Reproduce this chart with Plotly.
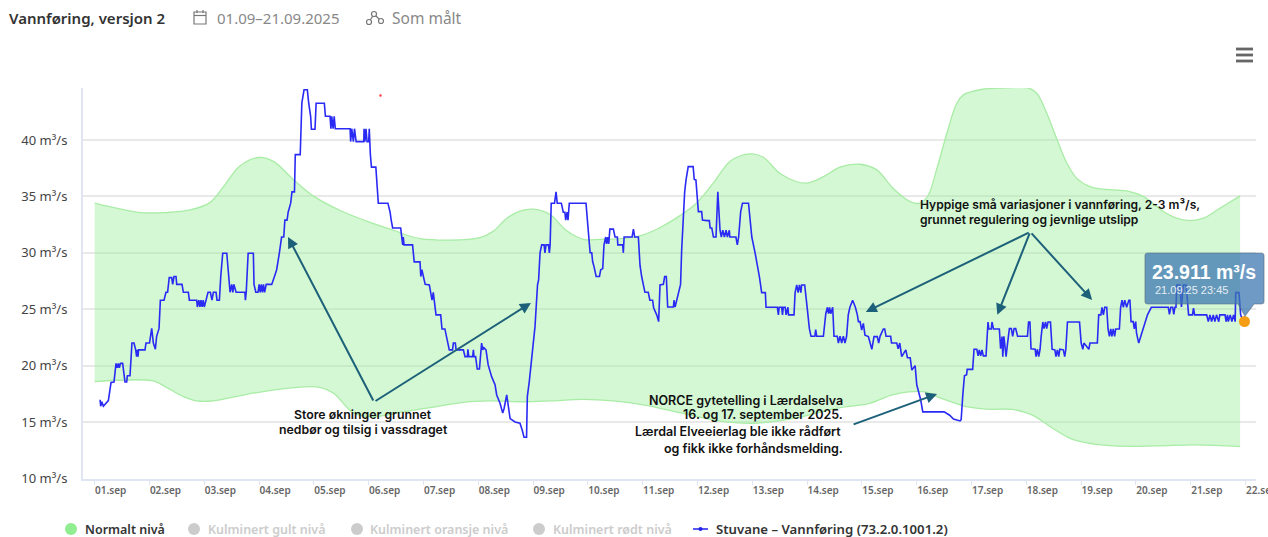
import plotly.graph_objects as go

# ---------- data (day offset from 1 Sep 00:00, m3/s) ----------
tick_days = list(range(22))
tick_labels = [f"{d:02d}.sep" for d in range(1, 23)]
y_ticks = [10, 15, 20, 25, 30, 35, 40]
y_labels = ["10 m³/s", "15 m³/s", "20 m³/s", "25 m³/s", "30 m³/s", "35 m³/s", "40 m³/s"]

upper_day = [0.0, 0.83, 1.3, 1.74, 2.1, 2.35, 2.65, 3.0, 3.26, 3.625, 4.0, 4.48, 5.08, 5.45, 5.94, 7.03, 7.27, 7.52, 7.76, 8.0, 8.31, 8.6, 8.92, 9.22, 9.71, 10.01, 10.3, 10.68, 10.98, 11.29, 11.59, 11.84, 12.0, 12.2, 12.5, 12.81, 13.02, 13.3, 13.6, 13.96, 14.27, 14.57, 14.88, 15.06, 15.21, 15.36, 15.55, 15.73, 15.85, 15.97, 16.2, 16.52, 17.04, 17.19, 17.37, 17.55, 17.74, 17.92, 18.16, 18.4, 18.83, 19.13, 19.5, 19.74, 19.99, 20.23, 20.53, 20.9]
upper_val = [34.4, 33.57, 33.57, 33.8, 34.45, 35.87, 37.7, 38.45, 38.1, 36.5, 35.0, 33.75, 32.6, 32.0, 31.26, 31.35, 31.9, 33.07, 33.7, 33.87, 33.4, 32.0, 31.2, 31.2, 31.3, 31.6, 32.2, 33.3, 34.4, 36.2, 38.1, 38.68, 38.77, 38.47, 37.05, 36.3, 36.2, 36.76, 37.6, 37.85, 37.35, 35.7, 34.54, 34.4, 35.1, 37.35, 40.6, 43.26, 44.0, 44.24, 44.5, 44.6, 44.6, 44.15, 42.4, 40.16, 37.94, 36.6, 35.87, 35.64, 35.49, 35.0, 33.66, 33.07, 32.86, 33.07, 33.95, 35.05]

lower_day = [0.0, 1.07, 1.3, 1.62, 1.86, 2.16, 2.77, 3.08, 3.69, 4.11, 4.36, 4.72, 5.09, 5.63, 6.24, 6.73, 7.2, 7.82, 8.31, 8.92, 9.46, 10.04, 10.72, 11.48, 12.09, 12.77, 13.53, 14.14, 14.55, 14.85, 15.15, 15.45, 15.9, 16.35, 16.73, 17.1, 17.48, 17.8, 18.08, 18.6, 19.36, 20.1, 20.9]
lower_val = [18.58, 18.64, 18.1, 17.25, 16.87, 16.87, 17.46, 17.7, 18.08, 18.08, 17.55, 15.8, 15.48, 15.9, 16.37, 16.75, 16.87, 16.8, 16.87, 17.0, 16.87, 16.5, 15.78, 15.04, 14.9, 15.34, 16.22, 16.66, 17.4, 17.67, 17.67, 17.1, 16.37, 16.13, 16.13, 15.63, 14.45, 13.56, 13.18, 12.88, 12.88, 12.97, 12.82]

flow_a = [(.085,16.9),(.10,16.9),(.109,16.4),(.13,16.8),(.158,16.4),(.249,16.9),(.298,18.5),(.352,18.55),(.389,20.2),(.413,19.8),(.43,20.2),(.45,19.8),(.47,20.2),(.51,20.2),(.553,18.55),(.584,18.55),(.596,19.1),(.644,19.1),(.68,22),(.717,22),(.748,21.4),(.765,20.8),(.778,21.4),(.79,20.8),(.8,21.4),(.918,21.4),(.936,22),(1.0,22),(1.04,23.3),(1.07,22),(1.107,21.45),(1.13,22.6),(1.174,23.3),(1.198,25.8),(1.265,25.8),(1.3,26.5),(1.33,26.5),(1.36,27.8),(1.405,27.8),(1.423,27.2),(1.447,27.9),(1.484,27.9),(1.496,27.2),(1.593,27.2),(1.618,26.5),(1.709,26.5),(1.727,25.8),(1.861,25.8),(1.873,25.2),(1.9,25.8),(1.92,25.2),(1.94,25.8),(1.96,25.2),(1.98,25.8),(2.0,25.2),(2.03,25.8),(2.068,26.5),(2.11,26.5),(2.14,25.8),(2.165,26.5),(2.214,26.5),(2.232,25.8),(2.275,25.8),(2.3,27.9),(2.336,29.96),(2.41,29.96),(2.44,27.9),(2.47,26.5),(2.5,27.2),(2.52,26.5),(2.54,27.2),(2.58,26.5),(2.74,26.5),(2.75,25.8),(2.765,26.5),(2.79,29.4),(2.80,29.96),(2.895,29.96),(2.907,27.2),(2.94,26.5),(2.98,26.5),(3.0,27.2),(3.02,26.5),(3.04,27.2),(3.06,26.5),(3.08,27.2),(3.1,26.5),(3.13,27.2),(3.23,27.2),(3.28,27.9)]
flow_b = [(3.32,28.5),(3.37,30),(3.41,31.4),(3.45,31.4),(3.47,32.9),(3.51,32.9),(3.53,33.6),(3.576,34.4),(3.6,35.4),(3.645,35.4),(3.66,38.7),(3.75,38.7),(3.755,39.86),(3.78,43.3),(3.82,44.45),(3.88,44.45),(3.905,43.26),(3.94,42.1),(3.954,40.96),(4.02,40.96),(4.04,43.26),(4.19,43.26),(4.21,42.1),(4.294,42.1),(4.31,41),(4.325,42.1),(4.35,41),(4.37,42.1),(4.39,41),(4.66,41),(4.67,39.86),(4.69,41),(4.72,39.86),(4.74,41),(4.77,39.86),(4.91,39.86),(4.915,41),(4.93,39.86),(4.95,41),(4.97,39.86),(5.0,39.86),(5.01,41),(5.03,38.7),(5.05,37.6),(5.13,37.6),(5.175,34.4),(5.35,34.4),(5.39,33.6),(5.41,32.9),(5.437,32.2),(5.583,32.2),(5.62,30.7),(5.63,31.4),(5.644,30.7),(5.8,30.7),(5.83,29.2),(5.936,29.2),(5.95,27.9),(5.97,28.5),(6.0,27.9)]
flow_c = [(6.03,27.2),(6.106,27.15),(6.13,26.5),(6.155,25.8),(6.178,26.5),(6.21,25.1),(6.228,24.5),(6.313,24.5),(6.337,23.25),(6.39,23.25),(6.435,22),(6.47,21.4),(6.53,21.4),(6.544,22),(6.58,22),(6.595,21.4),(6.727,21.4),(6.757,20.8),(6.8,20.8),(6.81,21.45),(6.825,20.8),(6.897,20.8),(6.91,21.4),(6.92,20.8),(6.95,20.8),(6.98,19.7),(7.02,19.7),(7.06,22),(7.08,21.4),(7.1,21.6),(7.14,21.4),(7.18,20.06),(7.244,19),(7.305,18.3),(7.335,17.4),(7.396,16.66),(7.445,15.8),(7.47,16.2),(7.518,17.4),(7.55,16.4),(7.58,15.3),(7.67,15),(7.76,14.9),(7.8,14.3),(7.834,13.65),(7.88,13.65),(7.894,17.25),(7.93,18.6),(7.96,20.2),(8.0,22),(8.035,23.5),(8.08,27.15),(8.1,27.6)]
flow_d = [(8.126,30),(8.156,30.7),(8.2,30.7),(8.216,30),(8.235,30.7),(8.28,30.7),(8.296,30),(8.31,30.7),(8.33,34.4),(8.39,34.4),(8.418,35.4),(8.44,34.4),(8.515,34.4),(8.55,33.6),(8.58,33.6),(8.594,32.9),(8.62,33.6),(8.636,32.9),(8.66,34.4),(8.965,34.4),(8.99,32.9),(9.04,30),(9.07,30),(9.086,29.2),(9.11,28.8),(9.15,27.9),(9.21,27.9),(9.233,28.5),(9.27,28.6),(9.293,30.7),(9.324,31.4),(9.34,30.8),(9.36,31.4),(9.38,30.8),(9.4,32.1),(9.464,32.1),(9.494,31.4),(9.537,31.4),(9.545,30.7),(9.634,30.7),(9.646,30),(9.66,31.4),(9.805,31.4),(9.83,32.1),(9.853,31.4),(9.92,31.4),(9.95,28.9),(9.98,27.9),(10.04,26.5),(10.1,26.5),(10.13,25.8),(10.18,25.8),(10.2,25.1),(10.255,24.5),(10.29,23.9),(10.315,27.15),(10.376,27.2),(10.4,27.9),(10.43,27.9),(10.455,25.2),(10.56,25.2),(10.57,25.8),(10.59,25.2),(10.62,25.8),(10.65,26.5),(10.69,27.2)]
flow_e = [(10.71,30.2),(10.74,33.2),(10.765,35.4),(10.79,36.46),(10.83,37.64),(10.92,37.64),(10.94,36.5),(10.97,36.46),(11.0,34.4),(11.015,33.65),(11.075,33.65),(11.09,32.9),(11.17,32.85),(11.215,32.85),(11.23,32.2),(11.26,32.2),(11.29,31.4),(11.337,31.4),(11.37,35.4),(11.41,32),(11.434,31.4),(11.46,32),(11.49,31.4),(11.52,32),(11.545,31.4),(11.58,32),(11.59,31.4),(11.70,31.4),(11.726,30.7),(11.75,31.4),(11.787,33.65),(11.82,34.4),(11.93,34.4),(11.96,32.9),(11.99,31.4),(12.05,30),(12.09,29.07),(12.128,27.9),(12.17,26.47),(12.237,26.47),(12.25,25.17),(12.456,25.17),(12.475,24.5),(12.49,25.17),(12.535,25.17),(12.55,24.5),(12.565,25.17),(12.6,25.17),(12.615,24.5),(12.65,25.17),(12.66,24.5),(12.76,24.5),(12.78,26.47),(12.81,27.15),(12.835,26.47),(12.86,27.15),(12.885,26.47),(12.9,27.15),(12.955,27.15),(12.967,26.47),(13.0,25.17),(13.04,23.3),(13.07,22.6),(13.14,22.6),(13.156,23.2),(13.175,22.6),(13.296,22.6),(13.34,24.6),(13.37,25.17),(13.39,24.6),(13.41,25.17),(13.43,24.6),(13.466,25.17),(13.49,22.6),(13.55,22.6),(13.57,22),(13.6,22.6),(13.63,22),(13.66,22.6),(13.69,22),(13.72,22.6),(13.75,24.5),(13.78,25.17),(13.83,25.8),(13.88,25.17),(13.916,24.5),(13.935,23.9),(13.965,23.9),(13.995,23.16),(14.025,23.75),(14.055,22.7),(14.117,22.57),(14.18,21.45),(14.22,22.57),(14.28,22.57),(14.305,22),(14.33,22.6),(14.39,23.25),(14.415,23.25),(14.44,22.6),(14.524,22.6),(14.54,22),(14.635,22),(14.66,21.5),(14.69,22),(14.725,20.8),(14.8,21.4),(14.83,20.7),(14.88,20.7),(14.91,19.6)]
flow_f = [(14.97,20.0),(15.0,18.3),(15.07,17.0),(15.11,15.9),(15.5,15.9),(15.6,15.6),(15.67,15.27),(15.79,15.1),(15.81,15.2),(15.84,17.4),(15.87,19.1),(15.91,19.2),(15.92,19.67),(16.02,19.67),(16.045,21.45),(16.095,21.45),(16.12,20.86),(16.14,21.4),(16.167,20.86),(16.19,21.4),(16.215,20.86),(16.264,20.86),(16.29,23.25),(16.3,23.87),(16.315,23.25),(16.36,23.25),(16.373,23.87),(16.4,23.25),(16.507,23.25),(16.53,21.5),(16.556,22.57),(16.57,20.8),(16.59,22.6),(16.63,20.8),(16.65,21.7),(16.677,22.57),(16.69,23.28),(16.725,23.28),(16.75,22.6),(16.775,23.28),(16.805,23.28),(16.84,22.6),(17.02,22.6),(17.04,23.87),(17.065,23.87),(17.085,21.5),(17.16,21.45),(17.176,20.8),(17.2,21.45),(17.225,20.8),(17.25,21.45),(17.27,22.6),(17.3,23.87),(17.32,23.28),(17.35,23.87),(17.37,23.28),(17.395,23.87),(17.44,23.87),(17.47,21.45),(17.52,21.4),(17.54,20.8),(17.565,21.4),(17.59,20.8),(17.61,21.45),(17.675,21.4),(17.7,20.8),(17.72,21.45),(17.75,23.87),(17.97,23.87),(18.0,22),(18.03,21.45),(18.05,22),(18.14,21.45),(18.16,22),(18.295,22),(18.32,24.5),(18.36,24.5),(18.38,25.17),(18.405,24.5),(18.43,25.17),(18.466,25.17),(18.49,23.25),(18.515,22.6),(18.54,23.25),(18.56,22.6),(18.585,23.25),(18.61,22.6),(18.63,23.25),(18.697,23.25),(18.72,25.17),(18.745,25.8),(18.77,25.17),(18.795,25.8),(18.83,25.17),(18.87,25.8),(18.89,25.8),(18.91,23.9),(18.95,23.9),(18.97,23.25),(18.995,23.9),(19.01,22.87),(19.05,22),(19.085,22.6),(19.12,23.2),(19.165,23.9),(19.21,24.5),(19.28,25.17),(19.59,25.17),(19.61,24.55),(19.635,25.17),(19.67,25.17),(19.69,24.55),(19.71,25.17),(19.73,25.17),(19.745,27.15),(19.8,27.15),(19.83,25.2),(19.865,27.15),(19.915,27.15),(19.96,24.5),(20.03,24.5),(20.05,25.1),(20.07,24.5),(20.29,24.5),(20.32,23.9),(20.35,24.5),(20.38,23.9),(20.41,24.5),(20.44,23.9),(20.47,24.5),(20.51,23.9),(20.53,24.5),(20.625,24.5),(20.645,23.9),(20.67,24.5),(20.685,23.9),(20.72,24.5),(20.75,23.9),(20.78,24.5),(20.81,23.9),(20.82,26.47),(20.88,26.47),(20.91,24.5),(20.95,24.0),(20.98,23.91)]

last_day = [20.98]
last_value = [23.911]

# ---------- layout helpers ----------
W, H = 1268, 537
L, R, T, B = 83, 1256, 88, 479
X_RANGE = [-0.2135, 21.19]
Y_RANGE = [9.95, 44.61]

def px(x): return (x - L) / (R - L)
def py(y): return (B - y) / (B - T)

shapes, anns = [], []

def text(x, y, s, size=12, color="#333", family="Noto Sans", weight=400, anchor="left"):
    anns.append(dict(xref="paper", yref="paper", x=px(x), y=py(y), text=s, showarrow=False,
                     xanchor=anchor, yanchor="middle", align=anchor, borderpad=0, borderwidth=0,
                     font=dict(size=size, color=color, family=family, weight=weight)))

def circle(cx, cy, r, fill=None, line=None, w=0):
    shapes.append(dict(type="circle", xref="paper", yref="paper", x0=px(cx-r), x1=px(cx+r), y0=py(cy+r), y1=py(cy-r),
                       fillcolor=fill or "rgba(0,0,0,0)", line=dict(color=line or "rgba(0,0,0,0)", width=w)))

def seg(x0, y0, x1, y1, color, w):
    shapes.append(dict(type="line", xref="paper", yref="paper", x0=px(x0), x1=px(x1), y0=py(y0), y1=py(y1),
                       line=dict(color=color, width=w)))

def arrow(x0, y0, x1, y1):
    anns.append(dict(xref="x", yref="y", axref="x", ayref="y", x=x1, y=y1, ax=x0, ay=y0, text="", showarrow=True,
                     arrowhead=2, arrowsize=1.1, arrowwidth=2, arrowcolor="#1d6079"))

# header
text(9, 18, "Vannføring, versjon 2", size=15, color="#333", weight=600)
text(217, 18, "01.09–21.09.2025", size=15, color="#888")
text(392, 18, "Som målt", size=15.5, color="#888")
shapes.append(dict(type="rect", xref="paper", yref="paper", x0=px(194), x1=px(206), y0=py(24), y1=py(12),
                   line=dict(color="#777", width=1.2)))
seg(194, 15.5, 206, 15.5, "#777", 1.2); seg(197, 10, 197, 13, "#777", 1.2); seg(203, 10, 203, 13, "#777", 1.2)
seg(369, 22, 374, 14, "#777", 1.2); seg(374, 14, 381, 21, "#777", 1.2)
circle(369, 22, 2.5, fill="#fff", line="#777", w=1.2); circle(374, 14, 2.5, fill="#fff", line="#777", w=1.2); circle(381, 21, 2.5, fill="#fff", line="#777", w=1.2)

# menu
for yy in (49, 55, 61):
    seg(1236, yy, 1253, yy, "#666", 2.8)
# stray red dot
circle(380.5, 95.5, 1.2, fill="#f33")

# story annotations
arrow(5.097, 16.78, 3.527, 31.41); arrow(5.097, 16.78, 7.96, 25.56)
arrow(17.07, 31.85, 14.07, 24.76); arrow(17.07, 31.85, 16.47, 24.5); arrow(17.07, 31.85, 18.2, 25.82)
arrow(13.82, 14.74, 15.37, 17.49)
NOTE = dict(color="#111", family="Inter", weight=600)
text(363, 414, "Store økninger grunnet", size=12.3, anchor="center", **NOTE)
text(363, 429, "nedbør og tilsig i vassdraget", size=12.3, anchor="center", **NOTE)
text(920, 204, "Hyppige små variasjoner i vannføring, 2-3 m³/s,", size=12.1, **NOTE)
text(920, 219, "grunnet regulering og jevnlige utslipp", size=12.1, **NOTE)
text(843, 400, "NORCE gytetelling i Lærdalselva", size=12.5, anchor="right", **NOTE)
text(843, 414, "16. og 17. september 2025.", size=12.5, anchor="right", **NOTE)
text(841, 431, "Lærdal Elveeierlag ble ikke rådført", size=12.5, anchor="right", **NOTE)
text(843, 448, "og fikk ikke forhåndsmelding.", size=12.5, anchor="right", **NOTE)

# value tooltip
TIP = "rgba(62,120,178,0.75)"
shapes.append(dict(type="path", xref="paper", yref="paper",
    path=f"M{px(1148)},{py(253)} L{px(1261)},{py(253)} Q{px(1264)},{py(253)} {px(1264)},{py(256)} L{px(1264)},{py(301)} Q{px(1264)},{py(304)} {px(1261)},{py(304)} "
         f"L{px(1254)},{py(304)} L{px(1245)},{py(316)} L{px(1238)},{py(304)} L{px(1148)},{py(304)} Q{px(1145)},{py(304)} {px(1145)},{py(301)} L{px(1145)},{py(256)} Q{px(1145)},{py(253)} {px(1148)},{py(253)} Z",
    fillcolor=TIP, line=dict(color="rgba(90,110,130,0.55)", width=1.2)))
text(1204, 272, "23.911 m³/s", size=19.5, color="#fff", family="Liberation Sans", weight=700, anchor="center")
text(1191, 290, "21.09.25 23:45", size=11, color="#e6edf5", family="Liberation Sans", anchor="center")

# the last day label runs off the page edge in the reference, so it is placed separately
text(1261, 490, tick_labels[-1], size=10, color="#666", weight=600, anchor="center")

# legend row
LEG = dict(family="Noto Sans", weight=600)
circle(71, 529, 6, fill="#90ee90")
text(85, 529, "Normalt nivå", size=12.5, color="#333", **LEG)
circle(194, 529, 6, fill="#ccc")
text(208, 529, "Kulminert gult nivå", size=12.5, color="#ccc", **LEG)
circle(357, 529, 6, fill="#ccc")
text(370, 529, "Kulminert oransje nivå", size=12.5, color="#ccc", **LEG)
circle(539, 529, 6, fill="#ccc")
text(553, 529, "Kulminert rødt nivå", size=12.5, color="#ccc", **LEG)
seg(693, 529, 708, 529, "#2222ee", 1.5)
circle(700.5, 529, 2, fill="#2222ee")
text(716, 529, "Stuvane – Vannføring (73.2.0.1001.2)", size=13.2, color="#333", **LEG)

# ---------- figure ----------
flow = flow_a + flow_b + flow_c + flow_d + flow_e + flow_f
fig = go.Figure()
fig.add_trace(go.Scatter(x=lower_day, y=lower_val, mode="lines", line=dict(color="#a9eca6", width=1.3, shape="spline", smoothing=1.0),
                         showlegend=False, hoverinfo="skip"))
fig.add_trace(go.Scatter(x=upper_day, y=upper_val, mode="lines", line=dict(color="#a9eca6", width=1.3, shape="spline", smoothing=1.0),
                         fill="tonexty", fillcolor="rgba(144,238,144,0.40)", showlegend=False, hoverinfo="skip"))
fig.add_trace(go.Scatter(x=[p[0] for p in flow], y=[p[1] for p in flow], mode="lines",
                         line=dict(color="#2a2af5", width=1.6), name="Stuvane – Vannføring (73.2.0.1001.2)", showlegend=False))
fig.add_trace(go.Scatter(x=last_day, y=last_value, mode="markers", marker=dict(color="#f59d14", size=11),
                         showlegend=False, hoverinfo="skip"))

fig.update_layout(width=W, height=H, autosize=False, margin=dict(l=L, r=W-R, t=T, b=H-B, pad=0, autoexpand=False),
                  plot_bgcolor="#fff", paper_bgcolor="#fff", showlegend=False, shapes=shapes, annotations=anns,
                  font=dict(family="Noto Sans", color="#555"))
fig.update_xaxes(range=X_RANGE, tickvals=tick_days, ticktext=tick_labels, showgrid=False, zeroline=False,
                 showline=True, linecolor="#dfe5f2", linewidth=2, ticks="outside", ticklen=4, tickcolor="#dfe5f2",
                 ticklabelshift=16, ticklabelstandoff=-3, tickangle=0,
                 tickfont=dict(size=10, color="#666", weight=600, family="Noto Sans"))
fig.update_yaxes(range=Y_RANGE, tickvals=y_ticks, ticktext=y_labels, showgrid=True, gridcolor="#e9e9e9", gridwidth=1.5, zeroline=False,
                 showline=True, linecolor="#dfe5f2", linewidth=2, ticks="", ticklabelstandoff=11, tickfont=dict(size=13, color="#444", family="Noto Sans"))

fig.write_html("out.html", config=dict(displayModeBar=False),
               post_script="document.body.style.margin='0';document.body.style.overflow='hidden';")
